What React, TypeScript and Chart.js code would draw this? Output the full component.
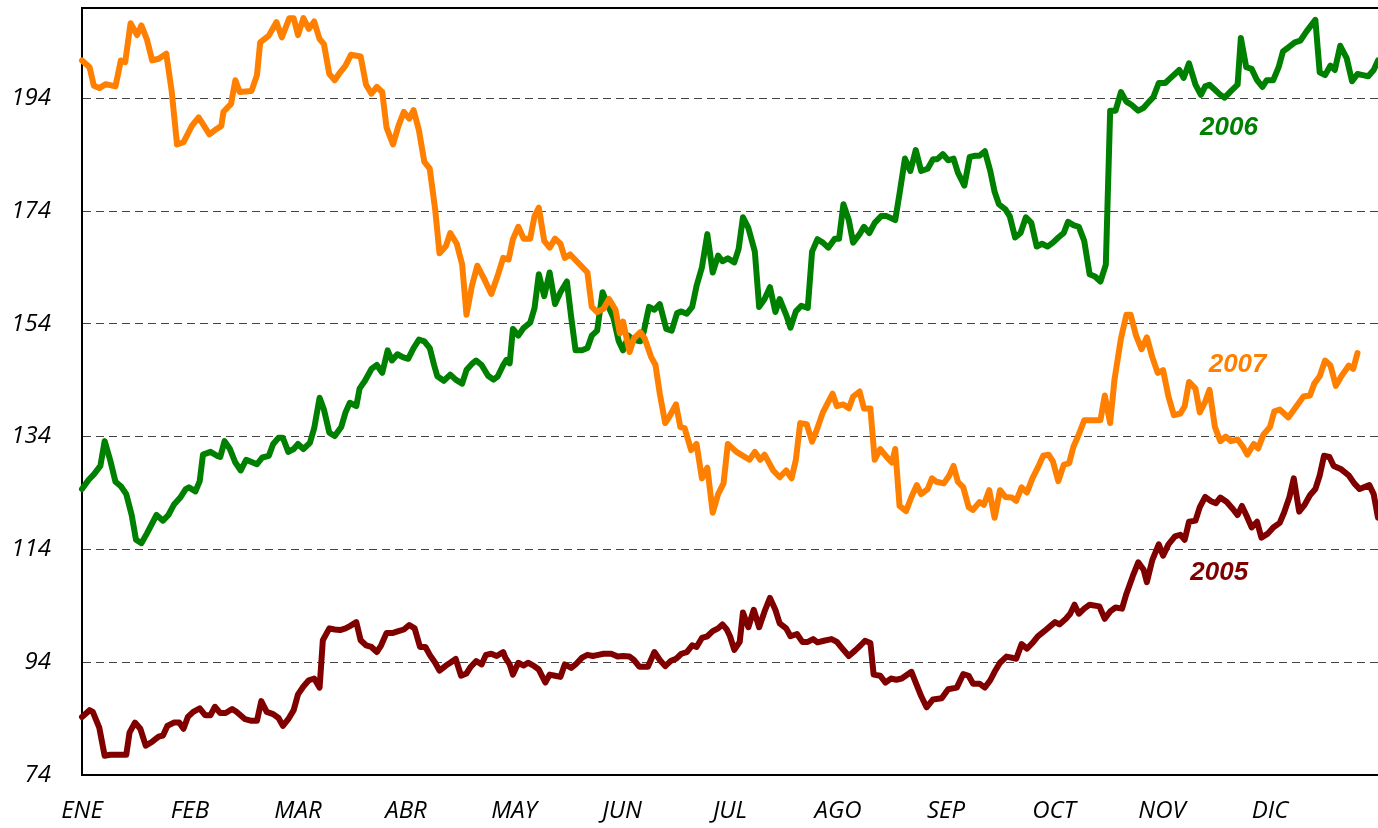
import React, { useEffect, useRef } from "react";
import { Chart, registerables } from "chart.js";

Chart.register(...registerables);

const MONTHS = ["ENE", "FEB", "MAR", "ABR", "MAY", "JUN", "JUL", "AGO", "SEP", "OCT", "NOV", "DIC"];
const Y_TICKS = [74, 94, 114, 134, 154, 174, 194];
const Y_MIN = 74;
const Y_MAX = 210;

// [month position, value]
const S2007: [number, number][] = [
  [0, 200.7], [0.07, 199.5], [0.11, 196.2], [0.16, 195.8], [0.22, 196.5], [0.31, 196.1], [0.36, 200.7], [0.4, 200.4],
  [0.45, 207.3], [0.51, 205.2], [0.55, 206.9], [0.6, 204.5], [0.65, 200.7], [0.71, 201.0], [0.78, 201.9], [0.83, 195.3],
  [0.88, 185.8], [0.94, 186.2], [1.02, 189.2], [1.08, 190.6], [1.18, 187.6], [1.25, 188.6], [1.29, 189.1], [1.31, 191.6],
  [1.38, 193.0], [1.42, 197.2], [1.46, 195.1], [1.57, 195.3], [1.62, 198.1], [1.65, 203.9], [1.73, 205.1], [1.8, 207.5],
  [1.85, 204.8], [1.92, 208.2], [1.96, 208.2], [2.0, 205.2], [2.05, 208.2], [2.1, 206.3], [2.15, 207.6], [2.2, 204.5],
  [2.24, 203.6], [2.29, 198.3], [2.34, 197.2], [2.39, 198.6], [2.44, 199.8], [2.49, 201.7], [2.58, 201.4], [2.63, 196.4],
  [2.68, 194.8], [2.73, 196.0], [2.78, 195.1], [2.82, 188.8], [2.88, 185.8], [2.93, 189.1], [2.98, 191.6], [3.03, 190.4],
  [3.07, 191.9], [3.12, 188.3], [3.17, 182.7], [3.22, 181.5], [3.27, 174.3], [3.31, 166.5], [3.37, 167.8], [3.41, 170.1],
  [3.47, 168.2], [3.52, 164.5], [3.56, 155.6], [3.61, 160.7], [3.66, 164.3], [3.72, 162.1], [3.79, 159.3], [3.85, 162.6],
  [3.9, 165.7], [3.95, 165.4], [3.99, 169.0], [4.04, 171.2], [4.09, 169.1], [4.15, 169.1], [4.19, 173.1], [4.23, 174.6],
  [4.28, 168.7], [4.33, 167.5], [4.38, 169.1], [4.43, 168.2], [4.47, 165.7], [4.52, 166.3], [4.58, 165.1], [4.68, 163.1],
  [4.72, 157.0], [4.77, 156.1], [4.83, 156.7], [4.88, 158.4], [4.94, 156.5], [4.98, 152.3], [5.01, 154.4], [5.07, 149.0],
  [5.11, 151.4], [5.17, 152.5], [5.21, 151.4], [5.27, 148.1], [5.31, 146.7], [5.35, 141.6], [5.4, 136.4], [5.44, 137.6],
  [5.5, 139.7], [5.54, 135.7], [5.58, 135.5], [5.64, 131.6], [5.69, 132.7], [5.74, 126.6], [5.79, 128.5], [5.84, 120.5],
  [5.89, 123.8], [5.94, 125.7], [5.98, 132.7], [6.06, 131.3], [6.18, 129.9], [6.23, 131.3], [6.28, 129.9], [6.32, 130.8],
  [6.4, 128.0], [6.46, 126.8], [6.52, 128.0], [6.57, 126.6], [6.61, 129.9], [6.65, 136.4], [6.71, 136.2], [6.76, 133.1],
  [6.8, 135.0], [6.86, 138.3], [6.95, 141.6], [6.99, 139.4], [7.05, 139.7], [7.1, 139.0], [7.14, 141.1], [7.2, 142.0],
  [7.24, 139.0], [7.3, 139.0], [7.34, 129.9], [7.39, 131.8], [7.45, 130.4], [7.5, 129.4], [7.53, 131.8], [7.57, 121.7],
  [7.63, 120.8], [7.68, 123.3], [7.73, 125.4], [7.77, 123.8], [7.83, 124.7], [7.87, 126.6], [7.91, 126.0], [7.98, 125.7],
  [8.03, 127.1], [8.07, 128.8], [8.11, 126.0], [8.16, 125.0], [8.21, 121.5], [8.25, 121.0], [8.31, 122.4], [8.35, 121.9],
  [8.4, 124.5], [8.45, 119.6], [8.5, 124.5], [8.55, 123.3], [8.61, 123.2], [8.65, 122.6], [8.7, 125.0], [8.75, 124.1],
  [8.8, 126.6], [8.85, 128.5], [8.9, 130.6], [8.95, 130.8], [8.99, 129.6], [9.04, 126.1], [9.09, 129.0], [9.14, 129.3],
  [9.18, 132.2], [9.23, 134.4], [9.28, 136.9], [9.36, 136.9], [9.43, 136.9], [9.47, 141.3], [9.52, 136.4], [9.56, 144.1],
  [9.62, 151.4], [9.67, 155.6], [9.71, 155.6], [9.76, 151.9], [9.81, 149.5], [9.86, 151.6], [9.91, 148.1], [9.96, 145.3],
  [10.01, 145.8], [10.06, 141.1], [10.11, 137.8], [10.17, 138.1], [10.21, 139.4], [10.25, 143.7], [10.31, 142.5], [10.35, 138.3],
  [10.4, 140.2], [10.44, 142.3], [10.49, 135.7], [10.54, 133.2], [10.59, 134.0], [10.64, 133.2], [10.7, 133.5], [10.75, 132.2],
  [10.79, 130.8], [10.85, 132.7], [10.89, 131.9], [10.94, 134.4], [11.0, 135.7], [11.04, 138.5], [11.09, 138.8], [11.17, 137.4],
  [11.23, 139.0], [11.31, 141.1], [11.37, 141.3], [11.41, 143.4], [11.46, 144.7], [11.51, 147.5], [11.56, 146.6], [11.61, 143.0],
  [11.66, 144.7], [11.73, 146.6], [11.77, 146.0], [11.81, 148.8],
];

const S2006: [number, number][] = [
  [0, 124.7], [0.06, 126.3], [0.11, 127.3], [0.17, 128.8], [0.21, 133.2], [0.26, 129.9], [0.31, 126.0], [0.36, 125.2],
  [0.41, 123.8], [0.46, 120.1], [0.5, 115.7], [0.55, 115.1], [0.6, 116.8], [0.69, 120.1], [0.75, 119.1], [0.8, 120.1],
  [0.85, 121.9], [0.91, 123.2], [0.96, 124.7], [0.99, 125.0], [1.05, 124.3], [1.09, 126.1], [1.12, 130.8], [1.19, 131.3],
  [1.25, 130.6], [1.28, 130.4], [1.32, 133.2], [1.37, 131.8], [1.42, 129.4], [1.47, 128.0], [1.52, 129.9], [1.62, 129.1],
  [1.67, 130.3], [1.73, 130.6], [1.77, 132.7], [1.82, 133.8], [1.86, 133.8], [1.91, 131.3], [1.96, 131.8], [2.0, 132.7],
  [2.05, 131.8], [2.11, 132.9], [2.15, 135.5], [2.2, 140.9], [2.24, 138.8], [2.29, 134.7], [2.34, 134.1], [2.4, 135.7],
  [2.44, 138.3], [2.48, 140.0], [2.54, 139.4], [2.57, 142.5], [2.62, 143.9], [2.68, 146.0], [2.73, 146.7], [2.78, 145.3],
  [2.83, 149.3], [2.87, 147.5], [2.92, 148.6], [2.97, 148.1], [3.02, 147.8], [3.07, 149.7], [3.12, 151.2], [3.17, 150.9],
  [3.22, 149.7], [3.26, 146.7], [3.29, 144.7], [3.35, 143.9], [3.41, 145.0], [3.46, 144.1], [3.52, 143.4], [3.56, 145.8],
  [3.61, 146.9], [3.65, 147.5], [3.7, 146.7], [3.76, 144.8], [3.81, 144.1], [3.85, 144.7], [3.9, 146.7], [3.93, 147.6],
  [3.96, 147.0], [3.99, 153.1], [4.04, 151.9], [4.09, 153.3], [4.15, 154.2], [4.19, 156.8], [4.23, 162.8], [4.28, 158.9],
  [4.33, 163.1], [4.38, 157.5], [4.43, 159.6], [4.49, 161.5], [4.53, 155.1], [4.57, 149.3], [4.63, 149.3], [4.68, 149.7],
  [4.72, 151.9], [4.77, 152.8], [4.82, 159.6], [4.86, 157.7], [4.92, 155.1], [4.97, 150.9], [5.01, 149.3], [5.06, 151.9],
  [5.1, 151.2], [5.17, 150.9], [5.2, 152.5], [5.25, 157.0], [5.3, 156.5], [5.35, 157.5], [5.41, 153.1], [5.46, 152.8],
  [5.51, 155.9], [5.55, 156.2], [5.6, 155.8], [5.65, 157.0], [5.69, 160.7], [5.74, 164.0], [5.79, 169.9], [5.84, 163.1],
  [5.89, 166.1], [5.93, 165.1], [5.98, 165.6], [6.04, 164.9], [6.08, 167.3], [6.12, 172.9], [6.17, 171.0], [6.23, 166.8],
  [6.27, 157.0], [6.32, 158.4], [6.37, 160.5], [6.42, 156.1], [6.46, 158.4], [6.52, 155.6], [6.56, 153.3], [6.61, 156.2],
  [6.66, 157.2], [6.72, 156.8], [6.76, 166.8], [6.81, 169.0], [6.86, 168.4], [6.91, 167.5], [6.97, 169.1], [7.01, 169.1],
  [7.05, 175.2], [7.1, 172.4], [7.14, 168.4], [7.2, 169.9], [7.24, 171.2], [7.29, 170.1], [7.34, 171.9], [7.4, 173.1],
  [7.45, 173.1], [7.53, 172.4], [7.57, 177.1], [7.62, 183.3], [7.67, 181.1], [7.72, 184.8], [7.77, 181.1], [7.83, 181.5],
  [7.88, 183.2], [7.92, 183.2], [7.97, 184.1], [8.02, 183.0], [8.07, 183.3], [8.11, 180.8], [8.17, 178.5], [8.22, 183.6],
  [8.27, 183.8], [8.31, 183.8], [8.36, 184.6], [8.41, 181.1], [8.45, 177.4], [8.49, 175.2], [8.55, 174.3], [8.59, 173.1],
  [8.64, 169.3], [8.69, 170.1], [8.74, 172.9], [8.79, 171.9], [8.84, 167.7], [8.89, 168.2], [8.94, 167.7], [8.99, 168.4],
  [9.04, 169.3], [9.09, 170.1], [9.13, 172.1], [9.18, 171.5], [9.23, 171.2], [9.28, 168.7], [9.33, 162.8], [9.38, 162.4],
  [9.43, 161.5], [9.48, 164.5], [9.52, 191.8], [9.57, 191.8], [9.62, 195.1], [9.67, 193.4], [9.72, 192.8], [9.78, 191.8],
  [9.83, 192.3], [9.88, 193.4], [9.92, 194.2], [9.97, 196.7], [10.03, 196.7], [10.08, 197.6], [10.16, 199.0], [10.2, 197.6],
  [10.25, 200.2], [10.31, 196.4], [10.36, 194.6], [10.4, 196.1], [10.44, 196.4], [10.49, 195.5], [10.54, 194.6], [10.58, 194.1],
  [10.64, 195.3], [10.7, 196.4], [10.73, 204.7], [10.78, 199.5], [10.83, 199.2], [10.88, 197.2], [10.93, 196.0], [10.97, 197.2],
  [11.03, 197.2], [11.08, 199.5], [11.12, 202.3], [11.17, 203.0], [11.23, 203.9], [11.28, 204.2], [11.34, 205.9], [11.42, 207.9],
  [11.46, 198.6], [11.51, 198.1], [11.56, 199.8], [11.6, 199.0], [11.65, 203.3], [11.71, 201.1], [11.76, 197.0], [11.81, 198.3],
  [11.86, 198.1], [11.91, 197.9], [11.96, 199.0], [12.0, 200.7],
];

const S2005: [number, number][] = [
  [0, 84.3], [0.07, 85.5], [0.1, 85.2], [0.16, 82.4], [0.21, 77.4], [0.26, 77.6], [0.34, 77.6], [0.41, 77.6],
  [0.44, 81.5], [0.49, 83.3], [0.54, 82.2], [0.59, 79.2], [0.65, 79.9], [0.71, 80.8], [0.75, 81.0], [0.79, 82.7],
  [0.85, 83.3], [0.9, 83.3], [0.94, 82.2], [0.98, 84.3], [1.03, 85.2], [1.09, 85.8], [1.14, 84.6], [1.19, 84.6],
  [1.23, 86.1], [1.28, 85.0], [1.33, 85.0], [1.39, 85.7], [1.43, 85.2], [1.51, 83.9], [1.57, 83.6], [1.62, 83.6],
  [1.66, 87.1], [1.71, 85.2], [1.77, 84.8], [1.82, 84.1], [1.86, 82.7], [1.91, 83.9], [1.96, 85.5], [2.0, 88.3],
  [2.05, 89.7], [2.1, 90.8], [2.15, 91.1], [2.2, 89.5], [2.23, 97.9], [2.29, 100.0], [2.34, 99.8], [2.39, 99.7],
  [2.44, 100.0], [2.48, 100.4], [2.54, 101.1], [2.58, 97.9], [2.63, 97.0], [2.68, 96.7], [2.73, 95.8], [2.77, 97.0],
  [2.82, 99.2], [2.88, 99.2], [2.93, 99.5], [2.98, 99.8], [3.03, 100.6], [3.08, 100.0], [3.13, 96.7], [3.18, 96.7],
  [3.22, 95.3], [3.27, 93.9], [3.31, 92.5], [3.37, 93.4], [3.41, 93.9], [3.46, 94.6], [3.51, 91.6], [3.56, 92.0],
  [3.6, 93.2], [3.65, 94.2], [3.7, 93.6], [3.74, 95.3], [3.79, 95.5], [3.84, 95.1], [3.9, 95.8], [3.92, 94.8],
  [3.96, 93.6], [3.99, 91.8], [4.04, 93.9], [4.09, 93.4], [4.13, 93.9], [4.18, 93.4], [4.23, 92.7], [4.29, 90.4],
  [4.33, 91.8], [4.38, 91.6], [4.43, 91.4], [4.47, 93.6], [4.53, 93.0], [4.57, 93.6], [4.63, 94.8], [4.68, 95.3],
  [4.73, 95.1], [4.78, 95.3], [4.83, 95.5], [4.9, 95.5], [4.96, 95.0], [5.01, 95.1], [5.07, 95.0], [5.11, 94.4],
  [5.16, 93.2], [5.24, 93.2], [5.3, 95.8], [5.35, 94.4], [5.4, 93.3], [5.45, 94.2], [5.5, 94.6], [5.55, 95.5],
  [5.6, 95.8], [5.65, 97.0], [5.69, 96.7], [5.74, 98.3], [5.79, 98.6], [5.84, 99.5], [5.89, 100.0], [5.93, 100.7],
  [5.97, 99.8], [6.0, 98.6], [6.04, 96.2], [6.09, 97.6], [6.12, 102.8], [6.17, 100.2], [6.22, 103.3], [6.27, 100.2],
  [6.32, 103.0], [6.37, 105.4], [6.42, 103.3], [6.46, 100.9], [6.52, 100.0], [6.56, 98.6], [6.62, 99.0], [6.67, 97.6],
  [6.72, 97.6], [6.77, 98.1], [6.81, 97.5], [6.87, 97.8], [6.94, 98.1], [6.99, 97.6], [7.05, 96.2], [7.1, 95.1],
  [7.16, 96.1], [7.21, 97.0], [7.25, 97.8], [7.3, 97.4], [7.33, 91.8], [7.39, 91.6], [7.44, 90.4], [7.49, 91.1],
  [7.54, 90.9], [7.59, 91.1], [7.68, 92.3], [7.73, 89.9], [7.77, 88.0], [7.82, 86.0], [7.88, 87.4], [7.96, 87.6],
  [8.02, 89.2], [8.1, 89.5], [8.16, 91.9], [8.21, 91.6], [8.25, 90.2], [8.31, 90.2], [8.36, 89.5], [8.41, 90.8],
  [8.45, 92.3], [8.5, 93.9], [8.56, 95.0], [8.61, 94.8], [8.65, 94.6], [8.7, 97.2], [8.75, 96.4], [8.8, 97.4],
  [8.85, 98.6], [8.91, 99.5], [8.96, 100.3], [9.01, 101.1], [9.05, 100.7], [9.11, 101.7], [9.15, 102.6], [9.19, 104.2],
  [9.23, 102.6], [9.28, 103.5], [9.33, 104.2], [9.42, 103.9], [9.47, 101.7], [9.52, 103.0], [9.57, 103.7], [9.63, 103.5],
  [9.67, 106.1], [9.73, 109.3], [9.78, 111.7], [9.83, 110.4], [9.86, 108.2], [9.91, 112.1], [9.97, 114.9], [10.01, 112.9],
  [10.06, 114.9], [10.12, 116.3], [10.17, 116.6], [10.21, 115.7], [10.25, 118.9], [10.31, 119.1], [10.35, 121.5], [10.4, 123.3],
  [10.45, 122.6], [10.5, 122.2], [10.54, 123.2], [10.6, 122.4], [10.65, 121.3], [10.7, 120.1], [10.74, 121.7], [10.78, 120.1],
  [10.83, 117.9], [10.88, 118.9], [10.92, 116.1], [10.98, 116.8], [11.03, 117.9], [11.09, 118.7], [11.13, 120.5], [11.18, 123.3],
  [11.22, 126.6], [11.27, 120.7], [11.32, 121.9], [11.37, 123.6], [11.42, 124.7], [11.46, 127.1], [11.5, 130.6], [11.55, 130.4],
  [11.59, 128.8], [11.66, 128.2], [11.73, 127.1], [11.78, 125.7], [11.83, 124.7], [11.92, 125.4], [11.96, 123.8], [12.0, 119.6],
];

const SERIES_NAMES = ["2007", "2006", "2005"];
const SERIES_COLORS = ["#FF8000", "#008000", "#800000"];
const SERIES_DATA = [S2007, S2006, S2005];
// label anchor [month position, value]
const LABEL_POS: [number, number][] = [[10.7, 146.8], [10.62, 188.7], [10.53, 109.9]];

const seriesLabels = {
  id: "seriesLabels",
  afterDatasetsDraw(chart: any) {
    const { ctx, scales, chartArea } = chart;
    ctx.save();
    // top frame line
    ctx.strokeStyle = "#000";
    ctx.lineWidth = 2;
    ctx.beginPath();
    ctx.moveTo(chartArea.left, chartArea.top);
    ctx.lineTo(chartArea.right, chartArea.top);
    ctx.stroke();
    ctx.font = "italic bold 26px 'Liberation Sans', Arial, sans-serif";
    ctx.textAlign = "center";
    ctx.textBaseline = "middle";
    SERIES_NAMES.forEach((name, i) => {
      const [m, v] = LABEL_POS[i];
      ctx.fillStyle = SERIES_COLORS[i];
      ctx.fillText(name, scales.x.getPixelForValue(m), scales.y.getPixelForValue(v));
    });
    ctx.restore();
  },
};

export default function App() {
  const ref = useRef<HTMLCanvasElement | null>(null);
  useEffect(() => {
    if (!ref.current) return;
    const chart = new Chart(ref.current, {
      type: "line",
      data: {
        datasets: SERIES_NAMES.map((name, i) => ({
          label: name,
          data: SERIES_DATA[i].map(([x, y]) => ({ x, y })),
          borderColor: SERIES_COLORS[i],
          backgroundColor: SERIES_COLORS[i],
          borderWidth: 6,
          pointRadius: 0,
          tension: 0,
          borderJoinStyle: "round",
          borderCapStyle: "round",
          fill: false,
          clip: false,
        })),
      },
      options: {
        animation: false,
        responsive: true,
        maintainAspectRatio: false,
        layout: { padding: { top: 8, right: 0, left: 0, bottom: 0 } },
        plugins: { legend: { display: false }, tooltip: { enabled: false } },
        scales: {
          x: {
            type: "linear",
            min: 0,
            max: 12,
            afterBuildTicks: (scale: any) => {
              scale.ticks = MONTHS.map((_, i) => ({ value: i }));
            },
            afterFit: (scale: any) => {
              scale.height = 53;
              scale.paddingLeft = 0;
              scale.paddingRight = 0;
            },
            ticks: {
              autoSkip: false,
              maxRotation: 0,
              padding: 22,
              color: "#000",
              font: { family: "'Open Sans', sans-serif", size: 24, style: "italic" },
              callback: (v: any) => MONTHS[Math.round(Number(v))] ?? "",
            },
            grid: { display: false, drawTicks: false },
            border: { display: true, color: "#000", width: 2 },
          },
          y: {
            min: Y_MIN,
            max: Y_MAX,
            afterBuildTicks: (scale: any) => {
              scale.ticks = Y_TICKS.map((v) => ({ value: v }));
            },
            afterFit: (scale: any) => {
              scale.width = 82;
              scale.paddingTop = 0;
              scale.paddingBottom = 0;
            },
            ticks: {
              padding: 31,
              color: "#000",
              font: { family: "'Open Sans', sans-serif", size: 24, style: "italic" },
              callback: (v: any) => String(v),
            },
            grid: { display: true, drawTicks: false, color: "#444", lineWidth: 1 },
            border: { display: true, color: "#000", width: 2, dash: [8, 5] },
          },
        },
      },
      plugins: [seriesLabels],
    });
    return () => chart.destroy();
  }, []);
  return (
    <div style={{ position: "fixed", left: 0, top: 0, width: 1378, height: 828, background: "#fff" }}>
      <canvas ref={ref} />
    </div>
  );
}
